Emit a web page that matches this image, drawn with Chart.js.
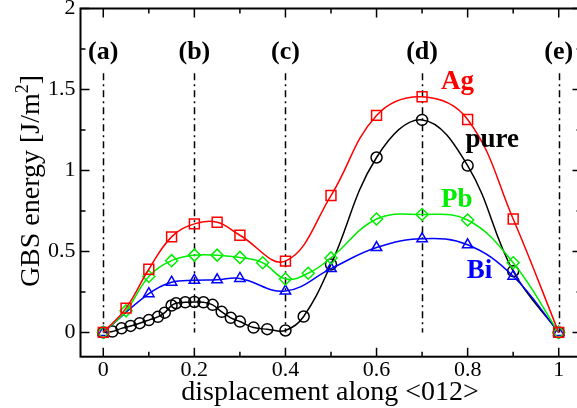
<!DOCTYPE html>
<html>
<head>
<meta charset="utf-8">
<script src="https://cdn.jsdelivr.net/npm/chart.js@4.4.0/dist/chart.umd.min.js"></script>
<style>
html, body { margin: 0; padding: 0; overflow: hidden; background: #fff; }
#caixa { width: 590px; height: 408px; }
</style>
</head>
<body>
<div id="caixa"><canvas id="grafico" width="590" height="408"></canvas></div>
<script>
// valores
var xAg = [0, 0.05, 0.1, 0.15, 0.2, 0.25, 0.3, 0.4, 0.5, 0.6, 0.7, 0.8, 0.9, 1.0];
var yAg = [0, 0.15, 0.39, 0.59, 0.67, 0.68, 0.60, 0.44, 0.845, 1.34, 1.455, 1.315, 0.70, 0];

var xPure = [0, 0.02, 0.04, 0.06, 0.08, 0.10, 0.12, 0.135, 0.15, 0.16, 0.18, 0.20, 0.22, 0.24, 0.26, 0.28, 0.30, 0.33, 0.36, 0.40, 0.44, 0.5, 0.6, 0.7, 0.8, 0.9, 1.0];
var yPure = [0, 0.005, 0.025, 0.04, 0.057, 0.076, 0.096, 0.122, 0.166, 0.18, 0.186, 0.188, 0.186, 0.17, 0.127, 0.09, 0.067, 0.03, 0.02, 0.012, 0.098, 0.42, 1.08, 1.312, 1.03, 0.378, 0];

var xPb = [0, 0.05, 0.1, 0.15, 0.2, 0.25, 0.3, 0.35, 0.4, 0.45, 0.5, 0.6, 0.7, 0.8, 0.9, 1.0];
var yPb = [0, 0.133, 0.345, 0.443, 0.477, 0.477, 0.463, 0.43, 0.33, 0.365, 0.46, 0.70, 0.728, 0.694, 0.43, 0];

var xBi = [0, 0.1, 0.15, 0.2, 0.25, 0.3, 0.4, 0.5, 0.6, 0.7, 0.8, 0.9, 1.0];
var yBi = [0, 0.239, 0.31, 0.322, 0.325, 0.333, 0.255, 0.394, 0.524, 0.578, 0.541, 0.347, 0];

var xTicks = [0, 0.2, 0.4, 0.6, 0.8, 1];
var yTicks = [0, 0.5, 1, 1.5, 2];
var xMinor = [0.1, 0.3, 0.5, 0.7, 0.9];
var yMinor = [0.25, 0.75, 1.25, 1.75];

// posicoes das linhas tracejadas e seus rotulos
var marcasX = [0, 0.2, 0.4, 0.7, 1];
var marcasTexto = ['(a)', '(b)', '(c)', '(d)', '(e)'];

var serif = '"Liberation Serif", "DejaVu Serif", serif';

function pontos(xs, ys) {
    var lista = [];
    for (var i = 0; i < xs.length; i++) {
        lista.push({x: xs[i], y: ys[i]});
    }
    return lista;
}

function serie(nome, xs, ys, cor, estilo, raio) {
    return {
        label: nome,
        data: pontos(xs, ys),
        showLine: true,
        borderColor: cor,
        backgroundColor: 'rgba(0,0,0,0)',
        borderWidth: 1.5,
        tension: 0.4,
        pointStyle: estilo,
        pointRadius: raio,
        pointBorderWidth: 1.5,
        pointBorderColor: cor,
        pointBackgroundColor: 'rgba(0,0,0,0)'
    };
}

var enfeites = {
    id: 'enfeites',
    beforeDatasetsDraw: function(chart) {
        var ctx = chart.ctx;
        var sx = chart.scales.x, sy = chart.scales.y;
        ctx.save();
        ctx.strokeStyle = '#000';
        ctx.lineWidth = 1.5;
        ctx.setLineDash([7, 4, 2, 4]);
        for (var i = 0; i < marcasX.length; i++) {
            var px = Math.round(sx.getPixelForValue(marcasX[i])) + 0.5;
            ctx.beginPath();
            ctx.moveTo(px, sy.getPixelForValue(1.6));
            ctx.lineTo(px, sy.getPixelForValue(0));
            ctx.stroke();
        }
        ctx.restore();
    },
    afterDatasetsDraw: function(chart) {
        var ctx = chart.ctx;
        var a = chart.chartArea;
        var sx = chart.scales.x, sy = chart.scales.y;
        ctx.save();
        // moldura
        ctx.strokeStyle = '#000';
        ctx.lineWidth = 2;
        ctx.strokeRect(a.left, a.top, a.right - a.left, a.bottom - a.top);
        // ticks para dentro
        ctx.lineWidth = 1.5;
        ctx.beginPath();
        function tickX(v, t) {
            var px = sx.getPixelForValue(v);
            ctx.moveTo(px, a.bottom); ctx.lineTo(px, a.bottom - t);
            ctx.moveTo(px, a.top); ctx.lineTo(px, a.top + t);
        }
        function tickY(v, t) {
            var py = sy.getPixelForValue(v);
            ctx.moveTo(a.left, py); ctx.lineTo(a.left + t, py);
            ctx.moveTo(a.right, py); ctx.lineTo(a.right - t, py);
        }
        xTicks.forEach(function(v) { tickX(v, 9); });
        xMinor.forEach(function(v) { tickX(v, 5); });
        yTicks.forEach(function(v) { tickY(v, 9); });
        yMinor.forEach(function(v) { tickY(v, 5); });
        ctx.stroke();

        // numeros dos eixos
        ctx.fillStyle = '#000';
        ctx.font = '22px ' + serif;
        ctx.textBaseline = 'middle';
        ctx.textAlign = 'center';
        xTicks.forEach(function(v) { ctx.fillText(String(v), sx.getPixelForValue(v), a.bottom + 14); });
        ctx.textAlign = 'right';
        yTicks.forEach(function(v) { ctx.fillText(String(v), a.left - 5, sy.getPixelForValue(v)); });

        // rotulos (a)...(e)
        ctx.font = 'bold 26px ' + serif;
        ctx.textAlign = 'center';
        ctx.textBaseline = 'alphabetic';
        for (var i = 0; i < marcasX.length; i++) {
            ctx.fillText(marcasTexto[i], sx.getPixelForValue(marcasX[i]), sy.getPixelForValue(1.69));
        }

        // nomes das series
        ctx.font = 'bold 27px ' + serif;
        var nomes = [['Ag', 0.778, 1.502, '#ff0000'], ['pure', 0.854, 1.143, '#000000'],
                     ['Pb', 0.776, 0.775, '#00ee00'], ['Bi', 0.826, 0.335, '#0000ff']];
        nomes.forEach(function(n) {
            ctx.fillStyle = n[3];
            ctx.fillText(n[0], sx.getPixelForValue(n[1]), sy.getPixelForValue(n[2]));
        });

        // titulo do eixo x
        ctx.fillStyle = '#000';
        ctx.font = '28px ' + serif;
        ctx.fillText('displacement along <012>', 330, 400);

        // titulo do eixo y com expoente
        ctx.translate(39, 181);
        ctx.rotate(-Math.PI / 2);
        var t1 = 'GBS energy [J/m', t2 = '2', t3 = ']';
        ctx.font = '28px ' + serif;
        var w1 = ctx.measureText(t1).width, w3 = ctx.measureText(t3).width;
        ctx.font = '18px ' + serif;
        var w2 = ctx.measureText(t2).width;
        var x0 = -(w1 + w2 + w3) / 2;
        ctx.textAlign = 'left';
        ctx.font = '28px ' + serif;
        ctx.fillText(t1, x0, 0);
        ctx.font = '18px ' + serif;
        ctx.fillText(t2, x0 + w1, -11);
        ctx.font = '28px ' + serif;
        ctx.fillText(t3, x0 + w1 + w2, 0);
        ctx.restore();
    }
};

var config = {
    type: 'scatter',
    data: {
        datasets: [
            serie('Ag', xAg, yAg, '#ff0000', 'rect', 7),
            serie('Pb', xPb, yPb, '#00ee00', 'rectRot', 6),
            serie('Bi', xBi, yBi, '#0000ff', 'triangle', 6),
            serie('pure', xPure, yPure, '#000000', 'circle', 5.5)
        ]
    },
    options: {
        responsive: false,
        animation: false,
        layout: {padding: {top: 6, right: 8.5, left: 0, bottom: 0}},
        plugins: {legend: {display: false}, tooltip: {enabled: false}},
        scales: {
            x: {
                type: 'linear', min: -0.05, max: 1.05,
                grid: {display: false, drawTicks: false},
                border: {display: false},
                afterBuildTicks: function(s) { s.ticks = xTicks.map(function(v) { return {value: v}; }); },
                afterFit: function(s) { s.height = 51.3; },
                ticks: {display: false}
            },
            y: {
                type: 'linear', min: -0.15, max: 2,
                grid: {display: false, drawTicks: false},
                border: {display: false},
                afterBuildTicks: function(s) { s.ticks = yTicks.map(function(v) { return {value: v}; }); },
                afterFit: function(s) { s.width = 80.5; },
                ticks: {display: false}
            }
        }
    },
    plugins: [enfeites]
};

var grafico = new Chart(document.getElementById('grafico'), config);
</script>
</body>
</html>
